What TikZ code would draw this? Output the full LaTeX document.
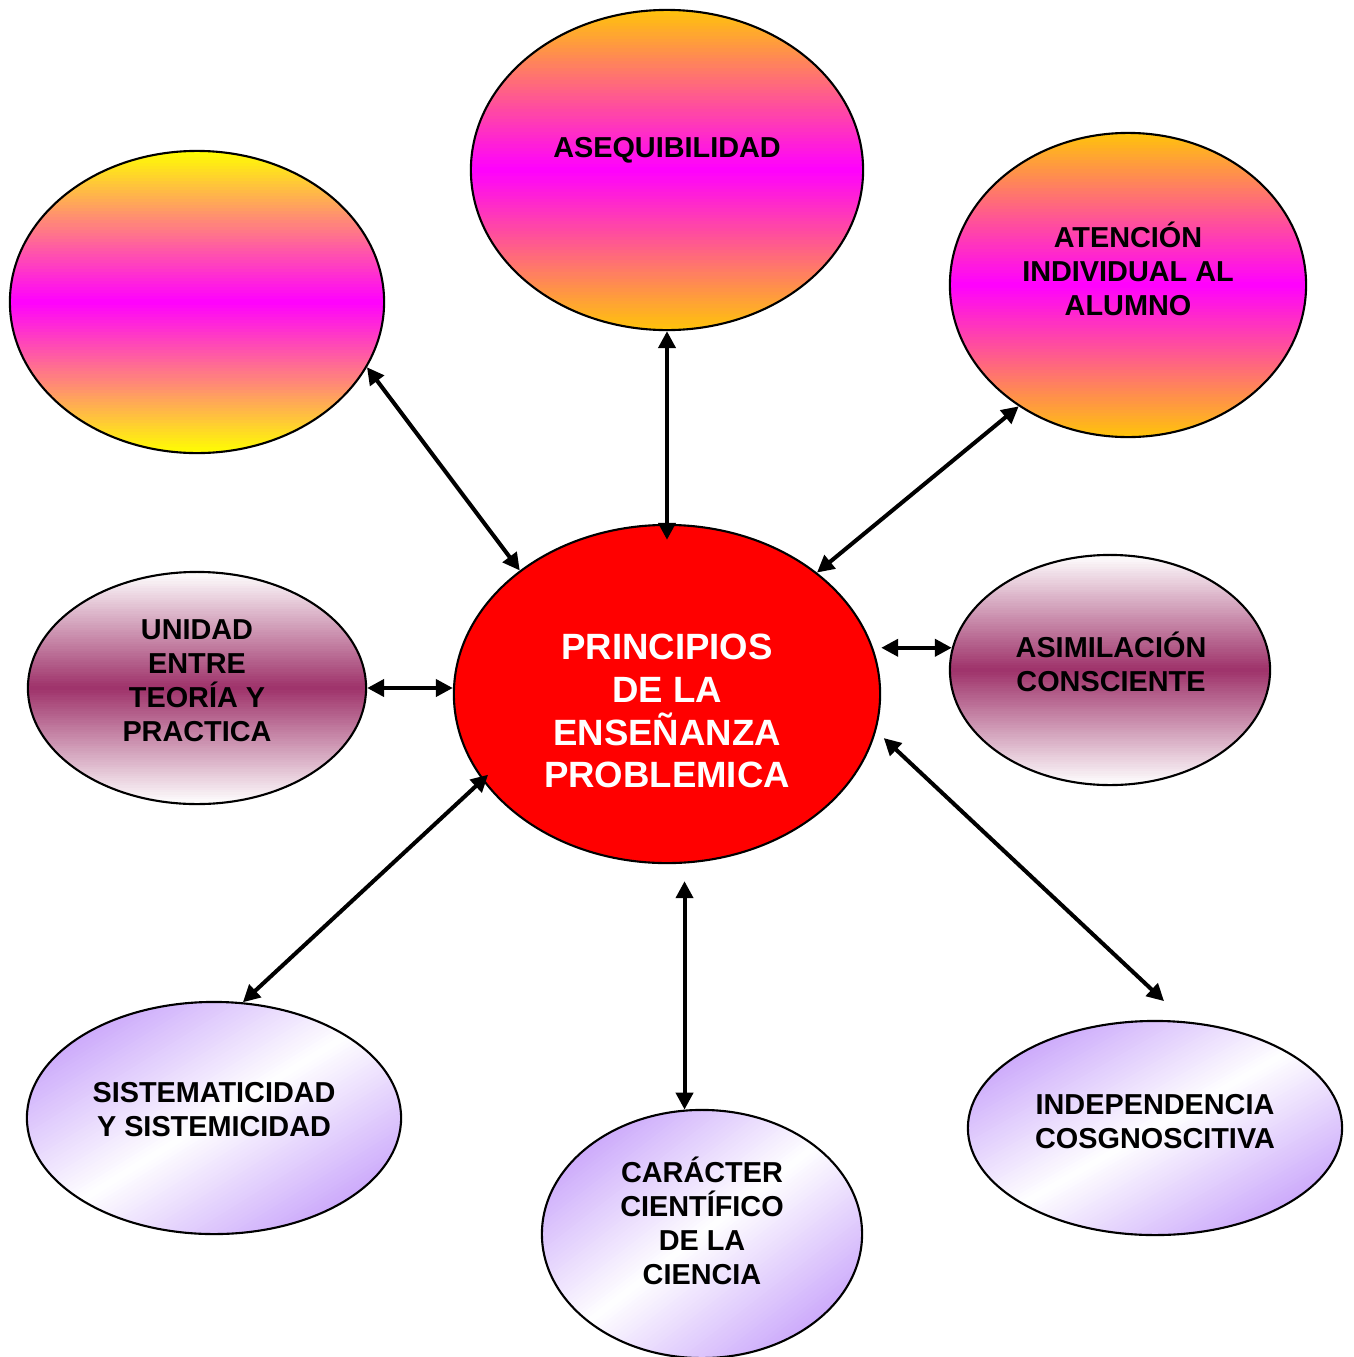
\documentclass[tikz,border=0pt]{standalone}
\usepackage{fontspec}
\setmainfont{Liberation Sans}
\usetikzlibrary{arrows.meta,shapes.geometric}
\definecolor{ylw}{RGB}{255,255,0}
\definecolor{mgt}{RGB}{255,0,255}
\definecolor{gold}{RGB}{255,196,10}
\definecolor{mrn}{RGB}{158,50,106}
\definecolor{lav}{RGB}{192,150,250}
\definecolor{wht}{RGB}{255,255,255}
% vertical gradient: cx cy rx ry edgecolour middlecolour
\newcommand\vgrad[6]{%
\begin{scope}
\clip (#1,#2) ellipse [x radius=#3, y radius=#4];
\foreach \k in {0,...,99}{%
  \pgfmathsetmacro\gya{#2-#4+\k*#4/50}%
  \pgfmathsetmacro\gyb{\gya+#4/50+0.8}%
  \pgfmathsetmacro\gpp{abs(\k+0.5-50)*2}%
  \fill[#5!\gpp!#6] (#1-#3-2,\gya) rectangle (#1+#3+2,\gyb);
}
\end{scope}}
% diagonal gradient (top-left and bottom-right coloured, centre white)
\newcommand\dgrad[5]{%
\begin{scope}
\clip (#1,#2) ellipse [x radius=#3, y radius=#4];
\foreach \k in {0,...,79}{%
  \pgfmathsetmacro\gca{-1.45+\k*2.9/80}%
  \pgfmathsetmacro\gcb{\gca+2.9/80*1.4}%
  \pgfmathsetmacro\gpp{min(100,abs(\gca+2.9/160)/1.414*80)}%
  \pgfmathsetmacro\gxa{#1+#3*(\gca/2+1.6)}\pgfmathsetmacro\gya{#2+#4*(\gca/2-1.6)}%
  \pgfmathsetmacro\gxb{#1+#3*(\gca/2-1.6)}\pgfmathsetmacro\gyb{#2+#4*(\gca/2+1.6)}%
  \pgfmathsetmacro\gxc{#1+#3*(\gcb/2-1.6)}\pgfmathsetmacro\gyc{#2+#4*(\gcb/2+1.6)}%
  \pgfmathsetmacro\gxd{#1+#3*(\gcb/2+1.6)}\pgfmathsetmacro\gyd{#2+#4*(\gcb/2-1.6)}%
  \fill[#5!\gpp!wht] (\gxa,\gya) -- (\gxb,\gyb) -- (\gxc,\gyc) -- (\gxd,\gyd) -- cycle;
}
\end{scope}}
\begin{document}
\begin{tikzpicture}[x=0.01cm,y=-0.01cm,
  oval/.style={ellipse,draw=black,line width=0.6pt,inner sep=0pt},
  txt/.style={font=\bfseries\fontsize{8.2}{9.7}\selectfont,align=center,text=black,inner sep=0pt},
  big/.style={font=\bfseries\fontsize{10.4}{12.2}\selectfont,align=center,text=white,inner sep=0pt},
  dbl/.style={line width=1.15pt,{Triangle[length=0.17cm,width=0.17cm]}-{Triangle[length=0.17cm,width=0.17cm]}}]
\useasboundingbox (0,0) rectangle (1354,1357);

% gradient fills
\vgrad{197}{302}{187}{151}{ylw}{mgt}
\vgrad{667}{170}{196}{160}{gold}{mgt}
\vgrad{1128}{285}{178}{152}{gold}{mgt}
\vgrad{197}{688}{169}{116}{wht}{mrn}
\vgrad{1110}{670}{160}{115}{wht}{mrn}
\dgrad{214}{1118}{187}{116}{lav}
\dgrad{702}{1234}{160}{124}{lav}
\dgrad{1155}{1128}{187}{107}{lav}

% ovals
\node[oval,minimum width=3.74cm,minimum height=3.02cm] (tl) at (197,302) {};
\node[oval,minimum width=3.92cm,minimum height=3.20cm] (as) at (667,170) {};
\node[oval,minimum width=3.56cm,minimum height=3.04cm] (at) at (1128,285) {};
\node[oval,fill=red,minimum width=4.26cm,minimum height=3.38cm] (c) at (667,694) {};
\node[oval,minimum width=3.38cm,minimum height=2.32cm] (un) at (197,688) {};
\node[oval,minimum width=3.20cm,minimum height=2.30cm] (am) at (1110,670) {};
\node[oval,minimum width=3.74cm,minimum height=2.32cm] (si) at (214,1118) {};
\node[oval,minimum width=3.20cm,minimum height=2.48cm] (ca) at (702,1234) {};
\node[oval,minimum width=3.74cm,minimum height=2.14cm] (ind) at (1155,1128) {};

% texts
\node[txt] (asT) at (667,150) {ASEQUIBILIDAD};
\node[txt] (atT) at (1128,269) {ATENCIÓN\\INDIVIDUAL AL\\ALUMNO};
\node[big] (cT) at (667,711) {PRINCIPIOS\\DE LA\\ENSEÑANZA\\PROBLEMICA};
\node[txt] (unT) at (197,681) {UNIDAD\\ENTRE\\TEORÍA Y\\PRACTICA};
\node[txt] (amT) at (1111,662) {ASIMILACIÓN\\CONSCIENTE};
\node[txt] (siT) at (214,1110) {SISTEMATICIDAD\\Y SISTEMICIDAD};
\node[txt] (caT) at (702,1221) {CARÁCTER\\CIENTÍFICO\\DE LA\\CIENCIA};
\node[txt] (inT) at (1155,1122) {INDEPENDENCIA\\COSGNOSCITIVA};

% connectors
\draw[dbl] (tl.-21) -- (c.140);
\draw[dbl,shorten >=-0.16cm] (as.south) -- (c.north);
\draw[dbl] (at.-132) -- (c.39);
\draw[dbl] (un.east) -- (un.east -| c.west);
\draw[dbl] (c.east |- am.172) -- (am.172);
\draw[dbl,shorten >=-0.08cm] (si.76) -- (c.-155);
\draw[dbl,shorten <=0.17cm] (c.south -| ca.98) -- (ca.98);
\draw[dbl,shorten <=0.105cm,shorten >=0.295cm] (c.-10.6) -- (ind.74.4);
\end{tikzpicture}
\end{document}
